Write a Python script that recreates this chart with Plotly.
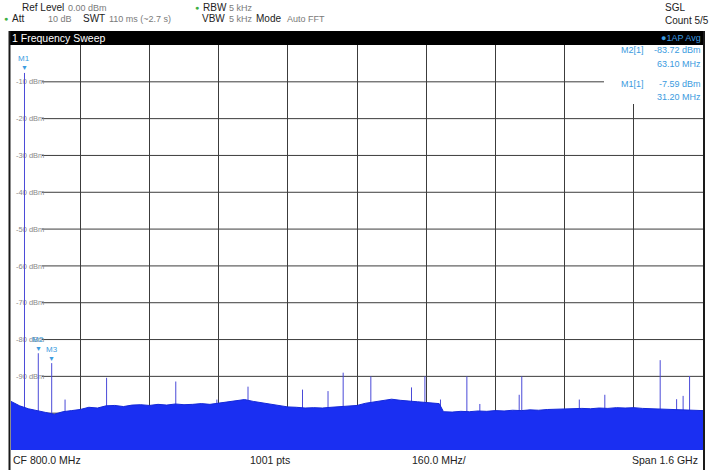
import numpy as np
import plotly.graph_objects as go

W, H = 713, 470
L, R, T, B = 11, 10, 45, 20

# ---------------- data ----------------
floor_freq_mhz = [0, 20, 40, 60, 80, 100, 120, 140, 160, 180, 200, 220, 240, 260, 280, 300,
                  320, 340, 360, 380, 400, 420, 440, 460, 480, 500, 520, 540, 560, 580, 600,
                  620, 640, 660, 680, 700, 720, 740, 760, 780, 800, 820, 840, 860, 880, 900,
                  920, 940, 960, 980, 990, 1000, 1020, 1040, 1060, 1080, 1100, 1120, 1140,
                  1160, 1180, 1200, 1220, 1240, 1260, 1280, 1300, 1320, 1340, 1360, 1380,
                  1400, 1420, 1440, 1460, 1480, 1500, 1520, 1540, 1560, 1580, 1600]
floor_dbm = [-96.8, -98.0, -98.8, -99.4, -99.8, -100.3, -99.6, -99.3, -99.0, -98.4, -98.6,
             -98.0, -97.9, -98.2, -97.8, -97.7, -97.9, -97.6, -97.8, -97.5, -97.7, -97.6,
             -97.4, -97.6, -97.3, -97.0, -96.7, -96.3, -96.8, -97.2, -97.6, -98.0, -98.3,
             -98.4, -98.6, -98.5, -98.6, -98.4, -98.3, -98.2, -97.9, -97.3, -96.9, -96.4,
             -96.2, -96.5, -96.8, -96.9, -97.1, -97.3, -97.4, -99.6, -99.7, -99.5, -99.6,
             -99.4, -99.5, -99.3, -99.4, -99.2, -99.3, -99.1, -99.2, -99.0, -98.9, -98.8,
             -98.9, -98.7, -98.8, -98.6, -98.7, -98.5, -98.6, -98.5, -98.7, -98.8, -98.9,
             -99.0, -99.1, -99.2, -99.3, -99.3]

spike_freq_mhz = [31.2, 63.1, 94.1, 125, 221, 381, 476, 548, 674, 733, 768, 832, 926, 957,
                  993, 1054, 1084, 1175, 1181, 1314, 1373, 1501, 1539, 1554, 1569]
spike_dbm = [-7.59, -83.72, -86.4, -96.3, -90.4, -91.4, -96.3, -92.8, -93.6, -94.0, -89.0,
             -90.0, -93.0, -90.0, -96.3, -90.0, -97.5, -95.0, -90.0, -96.3, -95.0, -85.6,
             -96.2, -95.3, -89.9]

marker_names = ["M1", "M2", "M3"]
marker_freq_mhz = [31.2, 63.1, 94.1]
marker_dbm = [-7.59, -83.72, -86.4]

ytick_vals = [-10, -20, -30, -40, -50, -60, -70, -80, -90]
ytick_text = ["-10 dBm", "-20 dBm", "-30 dBm", "-40 dBm", "-50 dBm",
              "-60 dBm", "-70 dBm", "-80 dBm", "-90 dBm"]

y_min, y_max = -110, 0
f_min, f_max, f_div = 0, 1600, 160

# ---------------- helpers ----------------
pw, ph = W - L - R, H - T - B


def xp(px):
    return (px - L) / pw


def yp(py):
    return 1 - (py - T) / ph


FONT = "Liberation Sans Narrow, Liberation Sans, Arial, sans-serif"
DARK = "#222222"
GRAY = "#7a7a7a"
MBLUE = "#3b9be0"
TRACE = "#1a2ff2"

fig = go.Figure()

# spikes (drawn first, fill covers their feet)
sx, sy = [], []
for f, v in zip(spike_freq_mhz, spike_dbm):
    sx += [f, f, None]
    sy += [y_min, v, None]
fig.add_trace(go.Scatter(x=sx, y=sy, mode="lines",
                         line=dict(color="#4a4ad8", width=1), hoverinfo="skip"))

# filled noise floor
fig.add_trace(go.Scatter(x=floor_freq_mhz, y=[y_min] * len(floor_freq_mhz), mode="lines",
                         line=dict(width=0), hoverinfo="skip"))
fig.add_trace(go.Scatter(x=floor_freq_mhz, y=floor_dbm, mode="lines", fill="tonexty",
                         fillcolor=TRACE, line=dict(color="#1428d8", width=1),
                         hoverinfo="skip"))

anns = []
shapes = []

# marker symbols and labels
for n, f, v in zip(marker_names, marker_freq_mhz, marker_dbm):
    anns.append(dict(x=f, y=v, xref="x", yref="y", text="▼", showarrow=False,
                     yshift=5, font=dict(size=7, color=MBLUE, family=FONT)))
    anns.append(dict(x=f, y=v, xref="x", yref="y", text=n, showarrow=False,
                     yshift=14, font=dict(size=8, color=MBLUE, family=FONT)))

# horizontal grid lines (start after the level labels)
for v in ytick_vals + [-100]:
    shapes.append(dict(type="line", xref="paper", yref="y", x0=xp(42), x1=1, y0=v, y1=v,
                       line=dict(color="#3c3c3c", width=1), layer="between"))

# marker table background box
shapes.append(dict(type="rect", xref="paper", yref="paper", x0=xp(604), x1=1,
                   y0=yp(104), y1=1, fillcolor="white", line=dict(width=0), layer="above"))

# black title bar
shapes.append(dict(type="rect", xref="paper", yref="paper", x0=xp(9), x1=xp(705),
                   y0=yp(45), y1=yp(31), fillcolor="black", line=dict(width=0), layer="above"))

# frame lines
shapes.append(dict(type="line", xref="paper", yref="paper", x0=xp(9.5), x1=xp(9.5),
                   y0=yp(470), y1=yp(31), line=dict(color="#1a1a1a", width=2), layer="above"))
shapes.append(dict(type="line", xref="paper", yref="paper", x0=xp(704), x1=xp(704),
                   y0=yp(470), y1=yp(31), line=dict(color="#1a1a1a", width=2), layer="above"))


def txt(px, py, s, color=DARK, size=10, anchor="left"):
    anns.append(dict(x=xp(px), y=yp(py), xref="paper", yref="paper", text=s,
                     showarrow=False, xanchor=anchor, yanchor="middle",
                     font=dict(size=size, color=color, family=FONT)))


# header
txt(20, 8, "Ref Level", DARK, 10)
txt(66, 8, "0.00 dBm", GRAY, 9)
txt(193, 8, "●", "#3cb043", 7)
txt(201, 8, "RBW", DARK, 10)
txt(227, 8, "5 kHz", GRAY, 9)
txt(663, 8, "SGL", DARK, 10)
txt(2, 19, "●", "#3cb043", 7)
txt(10, 19, "Att", DARK, 10)
txt(74, 19, "10 dB", GRAY, 9, "right")
txt(81, 19, "SWT", DARK, 10)
txt(107, 19, "110 ms (~2.7 s)", GRAY, 9)
txt(200, 19, "VBW", DARK, 10)
txt(227, 19, "5 kHz", GRAY, 9)
txt(254, 19, "Mode", DARK, 10)
txt(285, 19, "Auto FFT", GRAY, 9)
txt(663, 21, "Count 5/5", DARK, 10)

# title bar
txt(10, 38, "1 Frequency Sweep", "white", 10.5)
txt(703, 38, "●1AP Avg", MBLUE, 9, "right")

# marker table
txt(646, 50, "M2[1]", MBLUE, 9, "right")
txt(703, 50, "-83.72 dBm", MBLUE, 9, "right")
txt(703, 64, "63.10 MHz", MBLUE, 9, "right")
txt(646, 84, "M1[1]", MBLUE, 9, "right")
txt(703, 84, "-7.59 dBm", MBLUE, 9, "right")
txt(703, 97, "31.20 MHz", MBLUE, 9, "right")

# footer
txt(11, 460, "CF 800.0 MHz", DARK, 10.5)
txt(248, 460, "1001 pts", DARK, 10.5)
txt(410, 460, "160.0 MHz/", DARK, 10.5)
txt(700, 460, "Span 1.6 GHz", DARK, 10.5, "right")

fig.update_layout(
    width=W, height=H,
    margin=dict(l=L, r=R, t=T, b=B, pad=0),
    paper_bgcolor="white", plot_bgcolor="white",
    showlegend=False,
    annotations=anns, shapes=shapes,
    xaxis=dict(range=[f_min, f_max], dtick=f_div, tick0=0, showgrid=True,
               gridcolor="#3c3c3c", gridwidth=1, showticklabels=False, ticks="",
               zeroline=False, showline=False, fixedrange=True),
    yaxis=dict(range=[y_min, y_max], tickvals=ytick_vals, ticktext=ytick_text,
               showgrid=False, zeroline=False, showline=False, ticks="",
               ticklabelposition="inside", layer="below traces", ticklabelstandoff=2,
               tickfont=dict(size=7.5, color="#8a8a8a", family=FONT), fixedrange=True),
)

fig.write_html("out.html", config={"displayModeBar": False},
               post_script="document.body.style.margin='0px';document.body.style.overflow='hidden';")
